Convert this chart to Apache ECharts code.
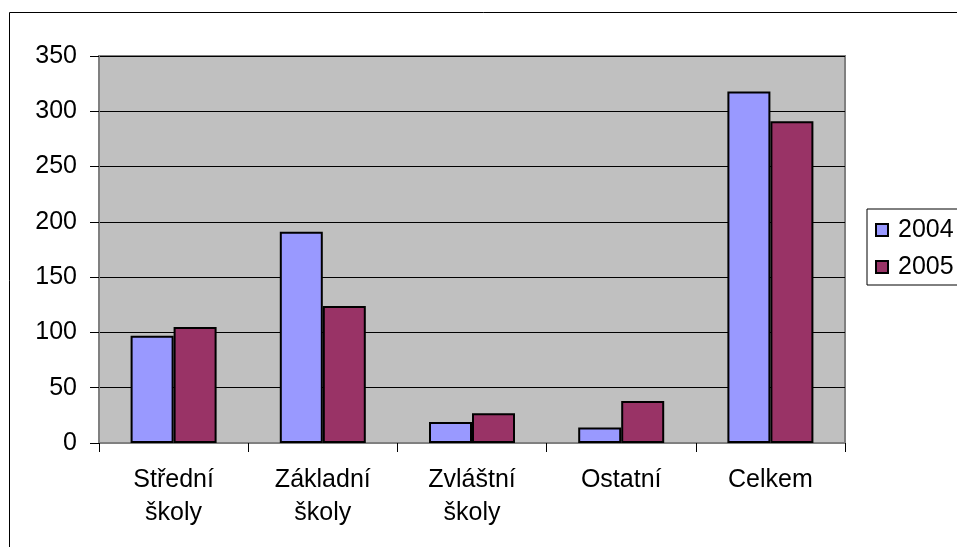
<!DOCTYPE html>
<html>
<head>
<meta charset="utf-8">
<script src="https://cdn.jsdelivr.net/npm/echarts@6/dist/echarts.min.js"></script>
<style>
  html, body { margin: 0; padding: 0; background: #fff; }
  #chart { width: 957px; height: 547px; }
</style>
</head>
<body>
<div id="chart"></div>
<script>
"use strict";
/** Categories along the x axis */
const categories = ["Střední\nškoly", "Základní\nškoly", "Zvláštní\nškoly", "Ostatní", "Celkem"];
/** Values */
const values2004 = [97, 191, 19, 14, 318];
const values2005 = [105, 124, 27, 38, 291];
const seriesNames = ["2004", "2005"];
const seriesColors = ["#9999FF", "#993366"];

const FONT = "'Liberation Sans', Arial, sans-serif";

let chart = echarts.init(document.getElementById("chart"), null, { renderer: "canvas" });

function MakeBar(name, data, color) {
    return {
        name: name,
        type: "bar",
        data: data,
        barWidth: 43,
        barGap: "0%",
        itemStyle: { color: color, borderColor: "#000", borderWidth: 2 },
        emphasis: { disabled: true }
    };
}

chart.setOption({
    animation: false,
    textStyle: { fontFamily: FONT },
    graphic: [{
        // outer chart border, clipped at right and bottom
        type: "rect",
        shape: { x: 9.5, y: 12.5, width: 1000, height: 600 },
        style: { fill: "none", stroke: "#000", lineWidth: 1 },
        z: -1
    }],
    grid: {
        left: 99, top: 56, right: 112, bottom: 104,
        show: true,
        backgroundColor: "#C0C0C0",
        borderColor: "#808080",
        borderWidth: 2
    },
    legend: {
        orient: "vertical",
        left: 867, top: 209,
        padding: [8, 8, 5, 8],
        itemWidth: 12, itemHeight: 12,
        itemGap: 11,
        borderColor: "#000", borderWidth: 1,
        icon: "rect",
        itemStyle: { borderColor: "#000", borderWidth: 2 },
        textStyle: { fontSize: 25, color: "#000", fontFamily: FONT, lineHeight: 26, padding: [0, 0, 0, 5] },
        data: seriesNames
    },
    xAxis: {
        type: "category",
        data: categories,
        axisLine: { lineStyle: { color: "#808080", width: 2 } },
        axisTick: { show: true, length: 9, lineStyle: { color: "#000" } },
        axisLabel: { fontSize: 25, color: "#000", lineHeight: 33, margin: 21, interval: 0 }
    },
    yAxis: {
        type: "value",
        min: 0, max: 350, interval: 50,
        axisLine: { show: true, lineStyle: { color: "#808080", width: 2 } },
        axisTick: { show: true, length: 9, lineStyle: { color: "#000" } },
        axisLabel: { fontSize: 25, color: "#000", margin: 22 },
        splitLine: { lineStyle: { color: "#000", width: 1 } }
    },
    series: [
        MakeBar(seriesNames[0], values2004, seriesColors[0]),
        MakeBar(seriesNames[1], values2005, seriesColors[1])
    ]
});
</script>
</body>
</html>
